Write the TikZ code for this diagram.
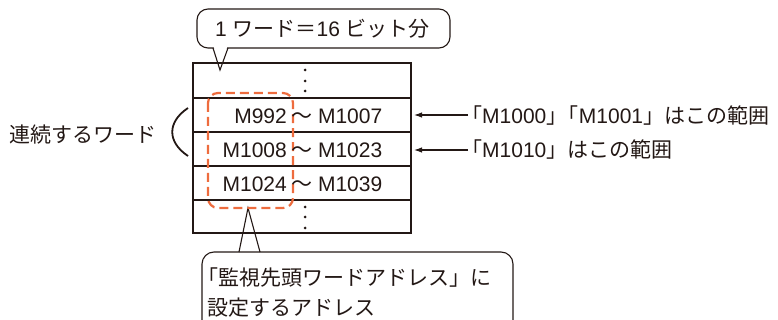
\documentclass[tikz,border=0pt]{standalone}
\usepackage{fontspec}
\setmainfont{Liberation Sans}
\newfontfamily\jp{Noto Sans CJK JP}
\usetikzlibrary{arrows.meta}
\definecolor{dashorange}{RGB}{238,108,62}
\definecolor{ink}{RGB}{35,24,21}
\begin{document}
\begin{tikzpicture}[x=1pt,y=-1pt,
  every node/.style={inner sep=0pt, text=ink, font=\fontsize{21}{25}\selectfont},
  callout/.style={draw=ink, line width=1.1pt},
  tableline/.style={draw=ink, line width=1.3pt},
  orangebox/.style={draw=dashorange, line width=2.2pt, rounded corners=10pt, dash pattern=on 9pt off 5pt},
  arr/.style={draw=ink, line width=1.1pt, -{Latex[length=8pt,width=5.5pt]}},
  dotmark/.style={fill=ink}]
\useasboundingbox (0,0) rectangle (778,320);
% top callout
\draw[callout, rounded corners=11pt] (197,9) rectangle (450,48);
\fill[white] (213.6,46.5) -- (227.4,46.5) -- (220,68) -- cycle;
\draw[callout] (213,48) -- (220,70) -- (228,48);
% bottom callout
\draw[callout, rounded corners=12pt] (202,252) rectangle (513,345);
\fill[white] (239.6,250.5) -- (259.4,250.5) -- (248,210) -- cycle;
\draw[callout] (239,252) -- (248,208) -- (260,252);
% table
\draw[tableline] (193,63) rectangle (411,233);
\foreach \yy in {98,132,166,200} \draw[tableline] (193,\yy) -- (411,\yy);
\foreach \yy in {70,81,91,207,217,228} \fill[dotmark] (305,\yy) circle (1.5pt);
% dashed orange box
\draw[orangebox] (208,93) rectangle (293,208);
% texts
\node[anchor=base] (top) at (322.5,36.7) {1 {\jp ワード＝}16 {\jp ビット分}};
\node[anchor=base east] (a1) at (287,123.5) {M992};
\node[anchor=base west] (b1) at (291,123.5) {{\jp ～} M1007};
\node[anchor=base east] (a2) at (287,157.5) {M1008};
\node[anchor=base west] (b2) at (291,157.5) {{\jp ～} M1023};
\node[anchor=base east] (a3) at (287,191.5) {M1024};
\node[anchor=base west] (b3) at (291,191.5) {{\jp ～} M1039};
\node[anchor=base west] (lbl) at (9,143) {\jp 連続するワード};
\draw[ink, line width=1.8pt] (188,108) .. controls (167,122) and (167,142) .. (188,156);
\node[anchor=base west] (r1) at (461,123.5) {{\jp 「}M1000{\jp 」\kern-0.45em「}M1001{\jp 」はこの範囲}};
\node[anchor=base west] (r2) at (461,157.5) {{\jp 「}M1010{\jp 」はこの範囲}};
\coordinate (s1) at (468,115);
\coordinate (t1) at (414,115);
\coordinate (s2) at (468,150);
\coordinate (t2) at (414,150);
\draw[arr] (s1) -- (t1);
\draw[arr] (s2) -- (t2);
\node[anchor=base west] (bl1) at (197,285) {\jp 「監視先頭ワードアドレス」に};
\node[anchor=base west] (bl2) at (207,315) {\jp 設定するアドレス};
\end{tikzpicture}
\end{document}
